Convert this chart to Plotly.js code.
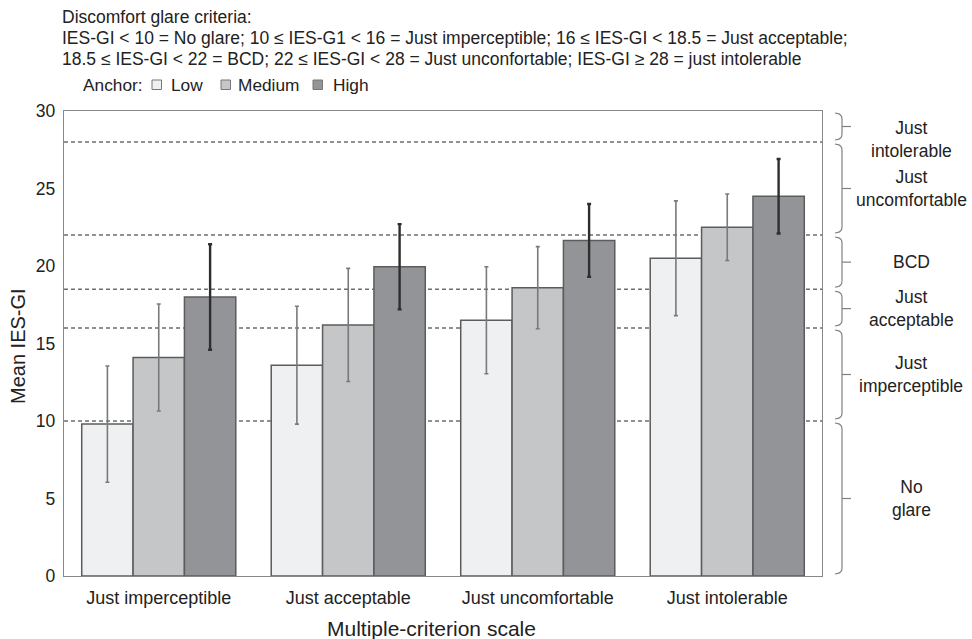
<!DOCTYPE html>
<html>
<head>
<meta charset="utf-8">
<script src="https://cdn.plot.ly/plotly-3.0.1.min.js"></script>
<style>html,body{margin:0;padding:0;background:#fff;}#chart{width:972px;height:639px;}</style>
</head>
<body>
<div id="chart"></div>
<script>
// ---- data ----
var categories = ["Just imperceptible", "Just acceptable", "Just uncomfortable", "Just intolerable"];
var lowMean  = [9.8, 13.6, 16.5, 20.5];
var lowErr   = [3.75, 3.8, 3.45, 3.7];
var medMean  = [14.1, 16.2, 18.6, 22.5];
var medErr   = [3.45, 3.65, 2.65, 2.15];
var highMean = [18.0, 19.95, 21.65, 24.5];
var highErr  = [3.4, 2.75, 2.35, 2.4];
var seriesNames = ["Low", "Medium", "High"];
var thresholds = [10, 16, 18.5, 22, 28];
var zoneLabels = ["No<br>glare", "Just<br>imperceptible", "Just<br>acceptable", "BCD", "Just<br>uncomfortable", "Just<br>intolerable"];
var zoneBounds = [0, 10, 16, 18.5, 22, 28, 30];
var headerLines = [
  "Discomfort glare criteria:",
  "IES-GI < 10 = No glare; 10 \u2264 IES-G1 < 16 = Just imperceptible; 16 \u2264 IES-GI < 18.5 = Just acceptable;",
  "18.5 \u2264 IES-GI < 22 = BCD; 22 \u2264 IES-GI < 28 = Just unconfortable; IES-GI \u2265 28 = just intolerable"
];
var legendTitle = "Anchor:";
var xTitle = "Multiple-criterion scale";
var yTitle = "Mean IES-GI";

// ---- styling ----
var FONT = "Liberation Sans, Arial, Helvetica, sans-serif";
var TXT = "#222";
var fills = ["#eff0f2", "#c5c6c8", "#929497"];
var errColors = ["#7a7a7a", "#7a7a7a", "#2e2e2e"];
var errThick = [1.6, 1.6, 2.4];
var means = [lowMean, medMean, highMean];
var errs = [lowErr, medErr, highErr];
var YMAX = 30;

var traces = seriesNames.map(function (n, i) {
  return {
    type: "bar", name: n, x: categories, y: means[i], showlegend: false,
    marker: {color: fills[i], line: {color: "#5c5c5c", width: 1.5}},
    error_y: {type: "data", array: errs[i], visible: true, color: errColors[i], thickness: errThick[i], width: 2}
  };
});

var L = 64, W = 758, B = 576, H = 465;
function px(p) { return (p - L) / W; }
function py(p) { return (B - p) / H; }
function vToPx(v) { return B - v / YMAX * H; }

var shapes = [];
thresholds.forEach(function (t) {
  shapes.push({type: "line", xref: "paper", yref: "y", x0: 0, x1: 1, y0: t, y1: t, layer: "below",
    line: {color: "#6e6e6e", width: 1.3, dash: "4px,3px"}});
});

// braces on the right, built from short line segments (pixel positions -> paper)
var annotations = [];
var braceLine = {color: "#808080", width: 1.2};
function seg(xa, ya, xb, yb) {
  shapes.push({type: "line", xref: "paper", yref: "paper", x0: px(xa), y0: py(ya), x1: px(xb), y1: py(yb),
    layer: "above", line: braceLine});
}
for (var k = 0; k < zoneLabels.length; k++) {
  var topP = vToPx(zoneBounds[k + 1]) + 2, botP = vToPx(zoneBounds[k]) - 2;
  var midP = (topP + botP) / 2;
  seg(835, topP, 839, topP + 0.8);
  seg(839, topP + 0.8, 841.5, topP + 3);
  seg(841.5, topP + 3, 842, topP + 6);
  seg(842, topP + 6, 842, botP - 6);
  seg(842, botP - 6, 841.5, botP - 3);
  seg(841.5, botP - 3, 839, botP - 0.8);
  seg(839, botP - 0.8, 835, botP);
  seg(842, midP, 851, midP);
  var ly = (k === zoneLabels.length - 1) ? py(139) : py(midP);
  annotations.push({xref: "paper", yref: "paper", x: px(911), y: ly, text: zoneLabels[k], showarrow: false,
    xanchor: "center", yanchor: "middle", align: "center", font: {family: FONT, size: 17.5, color: TXT}});
}

// header
var headerY = [17, 38, 59];
headerLines.forEach(function (t, i) {
  annotations.push({xref: "paper", yref: "paper", x: px(60), y: py(headerY[i]), text: t,
    showarrow: false, xanchor: "left", yanchor: "middle", align: "left",
    font: {family: FONT, size: 17.5, color: TXT}});
});

// legend (manual, to match compact spacing)
annotations.push({xref: "paper", yref: "paper", x: px(81), y: py(85), text: legendTitle, showarrow: false,
  xanchor: "left", yanchor: "middle", font: {family: FONT, size: 17.3, color: TXT}});
var boxX = [152, 221, 313], textX = [169, 236, 331];
seriesNames.forEach(function (n, i) {
  shapes.push({type: "rect", xref: "paper", yref: "paper", x0: px(boxX[i]), x1: px(boxX[i] + 9.5),
    y0: py(89.5), y1: py(80), fillcolor: fills[i], line: {color: "#777", width: 1}});
  annotations.push({xref: "paper", yref: "paper", x: px(textX[i]), y: py(85), text: n, showarrow: false,
    xanchor: "left", yanchor: "middle", font: {family: FONT, size: 17.3, color: TXT}});
});

// axis titles
annotations.push({xref: "paper", yref: "paper", x: px(431), y: py(628), text: xTitle, showarrow: false,
  xanchor: "center", yanchor: "middle", font: {family: FONT, size: 21, color: TXT}});
annotations.push({xref: "paper", yref: "paper", x: px(18), y: py(346), text: yTitle, showarrow: false,
  textangle: -90, xanchor: "center", yanchor: "middle", font: {family: FONT, size: 20, color: TXT}});

var layout = {
  width: 972, height: 639,
  margin: {l: 64, r: 150, t: 111, b: 63},
  paper_bgcolor: "#fff", plot_bgcolor: "#fff",
  font: {family: FONT, color: TXT},
  barmode: "group", bargap: 0.187, bargroupgap: 0,
  showlegend: false,
  xaxis: {showgrid: false, showline: true, mirror: true, linecolor: "#888", linewidth: 1.3,
    ticks: "", ticklabelstandoff: 5, tickfont: {family: FONT, size: 18, color: TXT}},
  yaxis: {range: [0, YMAX], dtick: 5, showgrid: false, zeroline: false, showline: true, mirror: true,
    linecolor: "#888", linewidth: 1.3, ticks: "", ticklabelstandoff: 4,
    tickfont: {family: FONT, size: 17.5, color: TXT}},
  shapes: shapes,
  annotations: annotations
};

Plotly.newPlot("chart", traces, layout, {displayModeBar: false, staticPlot: true});
</script>
</body>
</html>
